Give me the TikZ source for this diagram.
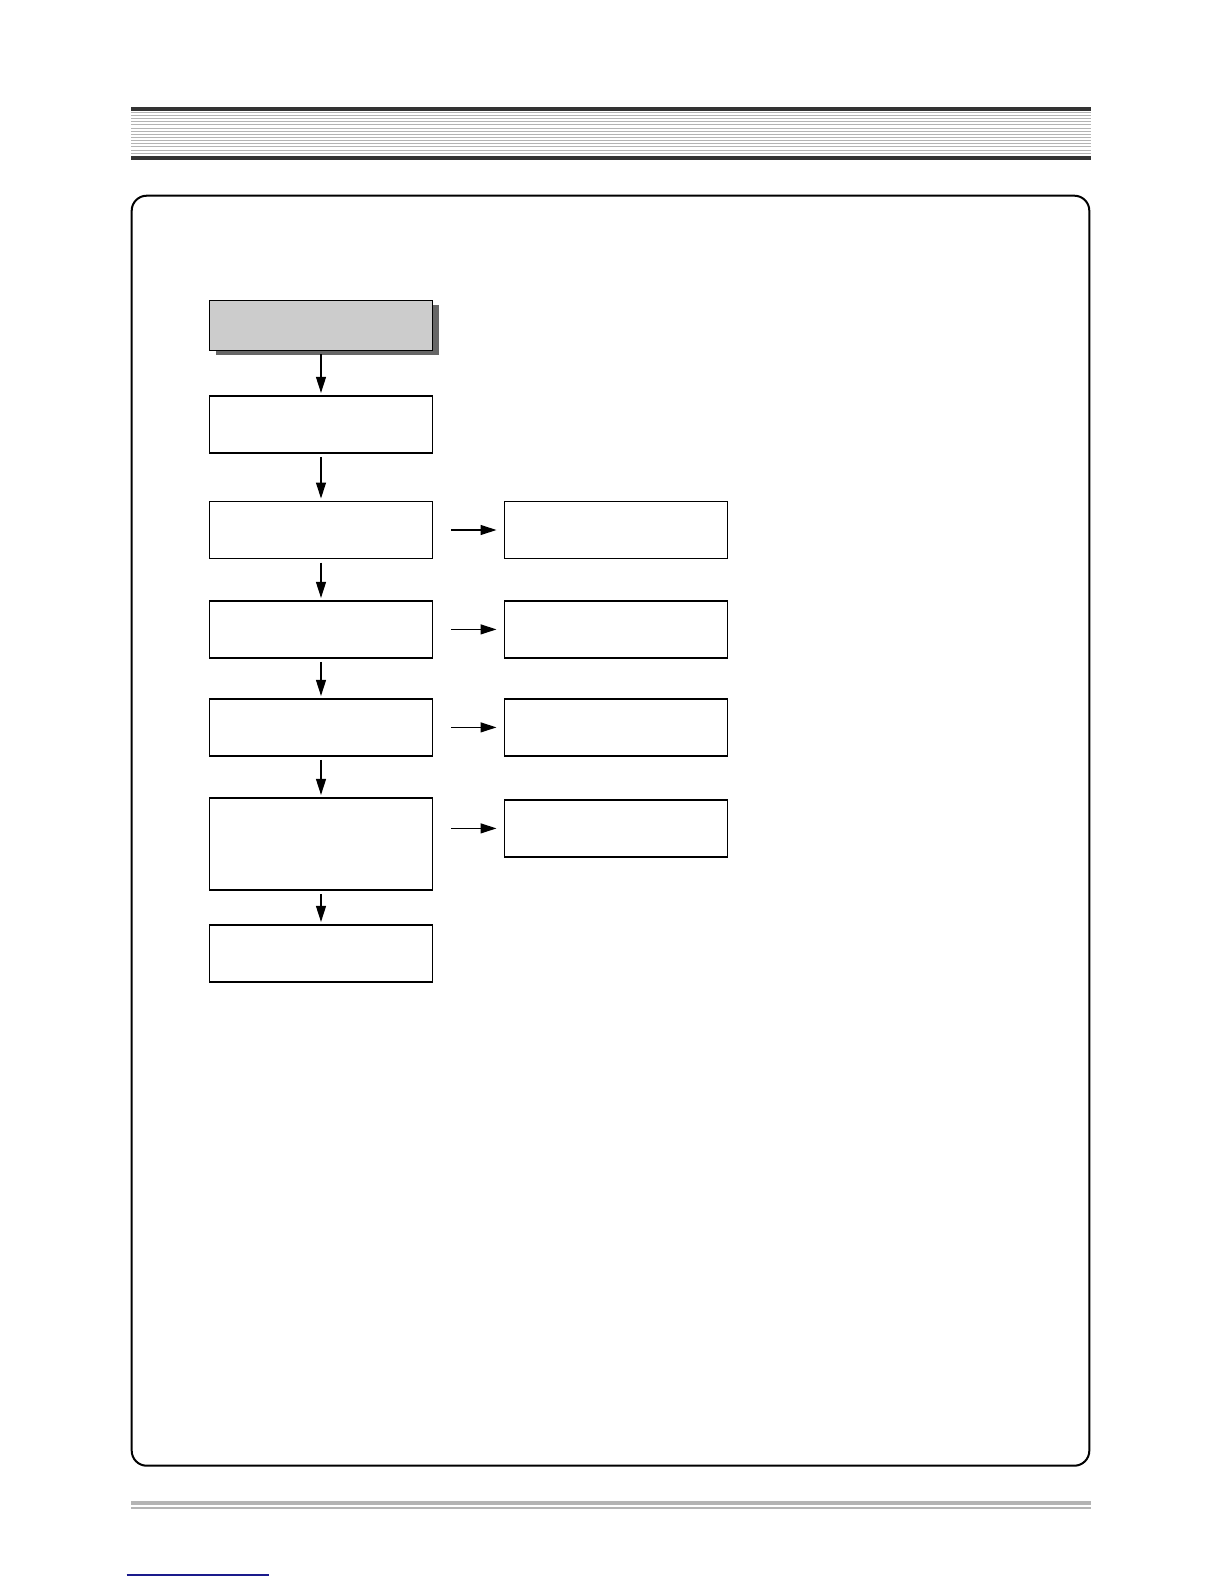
\documentclass[tikz,border=0pt]{standalone}
\usepackage{tikz}
\usetikzlibrary{arrows.meta,positioning,shadows}

\definecolor{bardark}{HTML}{333333}
\definecolor{bargray}{HTML}{B4B4B4}
\definecolor{startgray}{HTML}{CCCCCC}
\definecolor{shadegray}{HTML}{666666}
\definecolor{linkblue}{HTML}{1A1A8C}

\tikzset{
    block/.style={draw, line width=0.7pt, minimum width=111.5pt, minimum height=28.5pt, inner sep=0pt, outer sep=0pt},
    startblock/.style={block, fill=startgray, minimum height=25pt, drop shadow={shadow xshift=3pt, shadow yshift=-2.5pt, fill=shadegray, opacity=1}},
    tallblock/.style={block, minimum height=46pt},
    down/.style={->, line width=0.6pt, shorten <=2pt, shorten >=1.5pt},
    across/.style={->, line width=0.6pt, shorten <=9.3pt, shorten >=4pt}
}

\begin{document}
\begin{tikzpicture}[x=0.5pt, y=-0.5pt, >={Triangle[length=8pt,width=5pt]}]
    \useasboundingbox (0,0) rectangle (1224,1584);

    % Header bar
    \fill [bardark] (131,107) rectangle (1090.7,111);
    \fill [bardark] (131,155.7) rectangle (1090.7,159.7);
    \foreach \i in {0,...,13}
        \draw [bargray, line width=0.5pt] (131,{112.3+\i*3.15}) -- (1090.7,{112.3+\i*3.15});

    % Frame
    \draw [line width=1pt, rounded corners=7.5pt] (131.7,195.7) rectangle (1089.3,1465.7);

    % Nodes {B0 .. B6, R1 .. R4}
    \node [startblock]  (B0)  at (321,325.3)          {};
    \node [block]       (B1)  [below=22.8pt of B0]   {};
    \node [block]       (B2)  [below=24.3pt of B1]   {};
    \node [block]       (B3)  [below=21.2pt of B2]   {};
    \node [block]       (B4)  [below=20.5pt of B3]   {};
    \node [tallblock]   (B5)  [below=21pt of B4]     {};
    \node [block]       (B6)  [below=17.5pt of B5]   {};
    \node [block]       (R1)  [right=36pt of B2]     {};
    \node [block]       (R2)  [right=36pt of B3]     {};
    \node [block]       (R3)  [right=36pt of B4]     {};
    \node [block]       (R4)  [right=36pt of B5.north east, anchor=north west, yshift=-1pt] {};

    % Paths
    \path [down]    (B0) edge (B1);
    \path [down]    (B1) edge (B2);
    \path [down]    (B2) edge (B3);
    \path [down]    (B3) edge (B4);
    \path [down]    (B4) edge (B5);
    \path [down]    (B5) edge (B6);
    \path [across]  (B2) edge (R1);
    \path [across]  (B3) edge (R2);
    \path [across]  (B4) edge (R3);
    \path [across]  (B5.east |- R4) edge (R4);

    % Footer
    \fill [bargray] (131,1500.7) rectangle (1090.7,1505);
    \fill [bargray] (131,1507) rectangle (1090.7,1508.7);
    \draw [linkblue, line width=0.6pt] (126.7,1575) -- (269,1575);
\end{tikzpicture}
\end{document}
